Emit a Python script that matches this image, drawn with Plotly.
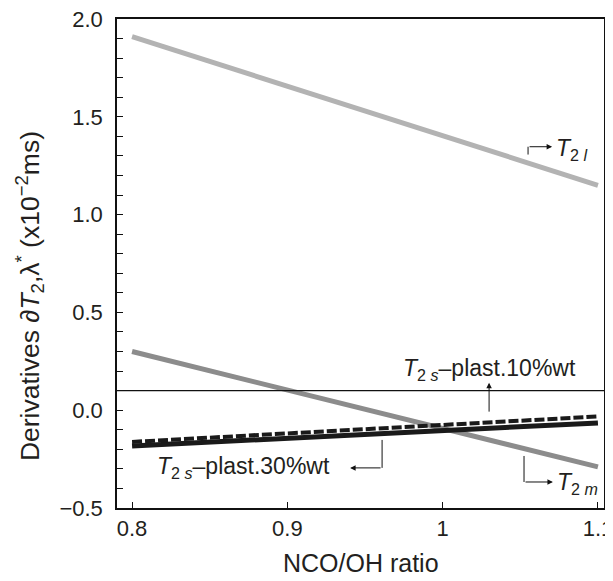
import plotly.graph_objects as go

# Data
x_ratio = [0.8, 1.1]
t2l = [1.91, 1.15]
t2m = [0.30, -0.29]
t2s_plast30 = [-0.183, -0.065]
t2s_plast10 = [-0.162, -0.032]
ref_level = 0.1

x_ticks = [0.8, 0.9, 1.0, 1.1]
x_ticktext = ["0.8", "0.9", "1", "1.1"]

FONT = "Liberation Sans, Arial, sans-serif"
TXT = "#231f20"

fig = go.Figure()
fig.add_trace(go.Scatter(x=x_ratio, y=t2l, mode="lines",
                         line=dict(color="#b3b3b3", width=5), showlegend=False))
fig.add_trace(go.Scatter(x=x_ratio, y=t2m, mode="lines",
                         line=dict(color="#8c8c8c", width=5), showlegend=False))
fig.add_trace(go.Scatter(x=x_ratio, y=t2s_plast30, mode="lines",
                         line=dict(color="#1a1a1a", width=5), showlegend=False))
fig.add_trace(go.Scatter(x=x_ratio, y=t2s_plast10, mode="lines",
                         line=dict(color="#1a1a1a", width=4, dash="10px,3px"), showlegend=False))

# horizontal reference line
fig.add_shape(type="line", xref="paper", yref="y", x0=0, x1=1, y0=ref_level, y1=ref_level,
              line=dict(color="#111111", width=1.2))

def seg(x0, y0, x1, y1):
    fig.add_shape(type="line", xref="x", yref="y", x0=x0, y0=y0, x1=x1, y1=y1,
                  line=dict(color="#111111", width=1))

def arrow(xt, yt, xh, yh):
    fig.add_annotation(x=xh, y=yh, ax=xt, ay=yt, xref="x", yref="y", axref="x", ayref="y",
                       text="", showarrow=True, arrowhead=2, arrowsize=1.1, arrowwidth=1,
                       arrowcolor="#111111", standoff=0)

def label(x, y, text, xanchor="left"):
    fig.add_annotation(x=x, y=y, xref="x", yref="y", text=text, showarrow=False,
                       xanchor=xanchor, yanchor="middle",
                       font=dict(family=FONT, size=23, color=TXT))

# T2l
seg(1.055, 1.307, 1.055, 1.347)
arrow(1.055, 1.347, 1.0705, 1.347)
label(1.0715, 1.335, "<i>T</i><sub>2<i> l</i></sub>")

# T2s plast 10%
arrow(1.0299, -0.015, 1.0299, 0.14)
label(1.03, 0.21, "<i>T</i><sub>2<i> s</i></sub>\u2013plast.10%wt", xanchor="center")

# T2s plast 30%
seg(0.961, -0.152, 0.961, -0.295)
arrow(0.961, -0.295, 0.9404, -0.295)
label(0.8715, -0.295, "<i>T</i><sub>2<i> s</i></sub>\u2013plast.30%wt", xanchor="center")

# T2m
seg(1.0524, -0.234, 1.0524, -0.367)
arrow(1.0524, -0.367, 1.071, -0.367)
label(1.0725, -0.377, "<i>T</i><sub>2<i> m</i></sub>")

# axis titles as annotations (precise placement)
fig.add_annotation(x=0.5, y=-0.1126, xref="paper", yref="paper", text="NCO/OH ratio",
                   showarrow=False, xanchor="center", yanchor="middle",
                   font=dict(family=FONT, size=25, color=TXT))
fig.add_annotation(x=-0.18, y=0.434, xref="paper", yref="paper",
                   text="Derivatives \u2202<i>T</i><sub>2</sub>,\u03bb<sup>*</sup> (x10<sup>\u22122</sup>ms)",
                   showarrow=False, xanchor="center", yanchor="middle", textangle=-90,
                   font=dict(family=FONT, size=26.5, color=TXT))

# page body has an 8px margin; plot area placed to match the reference
fig.update_layout(
    width=613, height=573,
    margin=dict(l=109, r=17, t=11, b=73),
    plot_bgcolor="white", paper_bgcolor="white",
    font=dict(family=FONT, size=22, color=TXT),
    showlegend=False,
)
fig.update_xaxes(
    range=[0.7903, 1.1039], tickvals=x_ticks, ticktext=x_ticktext,
    ticks="inside", ticklen=6, tickcolor="#111111", showgrid=False, zeroline=False,
    showline=True, linecolor="#111111", linewidth=1.5, mirror=True,
    tickfont=dict(size=22, color=TXT), automargin=False, ticklabeloverflow="allow",
)
fig.update_yaxes(
    range=[-0.5, 2.0], tickvals=[-0.5, 0.0, 0.5, 1.0, 1.5, 2.0], tickformat=".1f",
    ticks="inside", ticklen=6, tickcolor="#111111", showgrid=False, zeroline=False,
    minor=dict(dtick=0.1, ticks="inside", ticklen=6, tickcolor="#111111", showgrid=False),
    showline=True, linecolor="#111111", linewidth=1.5, mirror=True,
    tickfont=dict(size=22, color=TXT), automargin=False, ticklabelstandoff=8,
    ticklabeloverflow="allow",
)

fig.write_html("out.html")
